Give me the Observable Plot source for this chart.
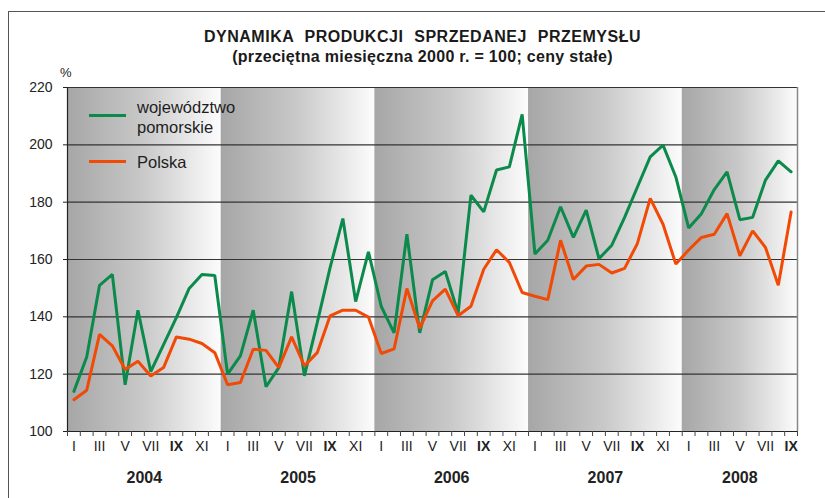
<!DOCTYPE html>
<html>
<head>
<meta charset="utf-8">
<script src="https://cdn.jsdelivr.net/npm/d3@7"></script>
<script src="https://cdn.jsdelivr.net/npm/@observablehq/plot@0.6"></script>
<style>
html, body { margin: 0; padding: 0; background: #fff; overflow: hidden; }
#wrap { position: relative; width: 825px; height: 498px; overflow: hidden;
        font-family: "Liberation Sans", Arial, Helvetica, sans-serif; color: #222; }
#head { position: relative; height: 70px; }
.t { position: absolute; left: 0; width: 845px; text-align: center; font-weight: bold; white-space: nowrap; color: #1a1a1a; }
#title { top: 28px; font-size: 16px; letter-spacing: 0.5px; word-spacing: 6px; }
#subtitle { top: 48px; font-size: 16px; letter-spacing: 0.3px; }
#pct { position: absolute; left: 60px; top: 65px; font-size: 13px; }
#border { position: absolute; left: 8px; top: 11px; width: 1000px; height: 1000px; border: 1px solid #555; pointer-events: none; }
.lg-line { position: absolute; height: 3px; width: 37px; left: 89px; }
.lg-text { position: absolute; left: 137px; font-size: 16.5px; line-height: 20px; color: #1e1e1e; }
#chart svg { display: block; }
</style>
</head>
<body>
<div id="wrap">
  <div id="border"></div>
  <div id="head">
    <div class="t" id="title">DYNAMIKA PRODUKCJI SPRZEDANEJ PRZEMYSŁU</div>
    <div class="t" id="subtitle">(przeciętna miesięczna 2000 r. = 100; ceny stałe)</div>
    <div id="pct">%</div>
  </div>
  <div id="chart"></div>
  <div class="lg-line" style="top:114px;background:#0b8a4c"></div>
  <div class="lg-text" style="top:97px">województwo<br>pomorskie</div>
  <div class="lg-line" style="top:160px;background:#f04a06"></div>
  <div class="lg-text" style="top:152px">Polska</div>
</div>
<script>
// ---- data ----
const years = [2004, 2005, 2006, 2007, 2008];
const monthsPerYear = [12, 12, 12, 12, 9];
const romanMonths = ["I","II","III","IV","V","VI","VII","VIII","IX","X","XI","XII"];
const boldMonths = ["IX"];
const yTicks = [100, 120, 140, 160, 180, 200, 220];
const gridValues = [120, 140, 160, 180, 200];

const seriesNames = ["województwo pomorskie", "Polska"];
const pomorskie = [
  114.0, 126.0, 151.0, 154.8, 116.3, 142.3, 120.9, 130.3, 139.7, 149.9, 154.8, 154.4,
  120.0, 126.4, 142.3, 115.6, 122.3, 148.8, 119.4, 138.0, 157.1, 174.3, 145.3, 162.7,
  143.6, 134.4, 168.8, 134.4, 152.9, 155.8, 141.3, 182.4, 176.6, 191.2, 192.3, 210.6,
  161.9, 166.7, 178.4, 167.7, 177.2, 160.3, 165.0, 174.7, 185.3, 195.8, 199.9, 188.8,
  171.0, 176.0, 184.4, 190.6, 173.9, 174.7, 187.7, 194.4, 190.6
];
const polska = [
  111.1, 114.4, 133.9, 129.9, 121.6, 124.5, 119.4, 122.3, 133.0, 132.2, 130.7, 127.5,
  116.3, 117.1, 128.7, 128.3, 122.3, 133.0, 122.9, 127.5, 140.3, 142.3, 142.3, 139.9,
  127.2, 128.8, 149.9, 136.0, 145.6, 149.7, 140.4, 143.7, 156.6, 163.4, 159.0, 148.5,
  147.2, 146.0, 166.7, 153.0, 157.7, 158.3, 155.3, 156.9, 165.6, 181.3, 172.3, 158.4,
  163.3, 167.7, 168.8, 176.0, 161.3, 170.0, 164.2, 151.0, 176.6
];
const colors = ["#0b8a4c", "#f04a06"];

// ---- derived tables ----
const bands = [];
const monthLabels = [];
let start = 0;
years.forEach((yr, k) => {
  const n = monthsPerYear[k];
  bands.push({year: String(yr), x1: start - 0.5, x2: start + n - 0.5, center: start + (n - 1) / 2});
  for (let m = 0; m < n; m += 2) monthLabels.push({i: start + m, label: romanMonths[m]});
  start += n;
});
const total = start;
const boundaries = d3.range(0, total + 1).map(i => i - 0.5);
const pomData = pomorskie.map((v, i) => ({i, v}));
const polData = polska.map((v, i) => ({i, v}));
const labelsNormal = monthLabels.filter(d => !boldMonths.includes(d.label));
const labelsBold = monthLabels.filter(d => boldMonths.includes(d.label));

const chart = Plot.plot({
  width: 825,
  height: 428,
  marginTop: 17,
  marginBottom: 67,
  marginLeft: 67,
  marginRight: 28,
  x: {type: "linear", domain: [-0.5, total - 0.5], axis: null, label: null},
  y: {domain: [100, 220], axis: null, label: null},
  style: {fontFamily: "'Liberation Sans', Arial, sans-serif", color: "#222", background: "transparent", overflow: "visible"},
  marks: [
    Plot.rect(bands, {x1: "x1", x2: "x2", y1: 100, y2: 220, fill: "url(#yearGrad)"}),
    Plot.ruleY(gridValues, {stroke: "#333", strokeWidth: 1.2}),
    Plot.line(pomData, {x: "i", y: "v", stroke: colors[0], strokeWidth: 3, strokeLinejoin: "miter"}),
    Plot.line(polData, {x: "i", y: "v", stroke: colors[1], strokeWidth: 3, strokeLinejoin: "miter"}),
    Plot.ruleY([220], {stroke: "#333", strokeWidth: 1.2}),
    Plot.ruleX([total - 0.5], {stroke: "#888", strokeWidth: 1.5}),
    Plot.ruleX([-0.5], {stroke: "#222", strokeWidth: 1.2}),
    Plot.ruleY([100], {stroke: "#222", strokeWidth: 1.2}),
    Plot.axisY({ticks: yTicks, tickSize: 4, tickPadding: 11, fontSize: 14, anchor: "left", stroke: "#222", label: null}),
    Plot.axisX({ticks: boundaries, tickSize: 5, tickFormat: () => "", anchor: "bottom", stroke: "#444", label: null}),
    Plot.text(labelsNormal, {x: "i", y: 100, dy: 15, text: "label", fontSize: 14, fill: "#222"}),
    Plot.text(labelsBold, {x: "i", y: 100, dy: 15, text: "label", fontSize: 14, fontWeight: "bold", fill: "#222"}),
    Plot.text(bands, {x: "center", y: 100, dy: 46, text: "year", fontSize: 16, fontWeight: "bold", fill: "#222"})
  ]
});

const defs = document.createElementNS("http://www.w3.org/2000/svg", "defs");
defs.innerHTML = '<linearGradient id="yearGrad" x1="0" x2="1" y1="0" y2="0">' +
  '<stop offset="0" stop-color="#a6a6a6"/><stop offset="0.5" stop-color="#c9c9c9"/>' +
  '<stop offset="1" stop-color="#fcfcfc"/></linearGradient>';
chart.insertBefore(defs, chart.firstChild);
document.getElementById("chart").appendChild(chart);
</script>
</body>
</html>
